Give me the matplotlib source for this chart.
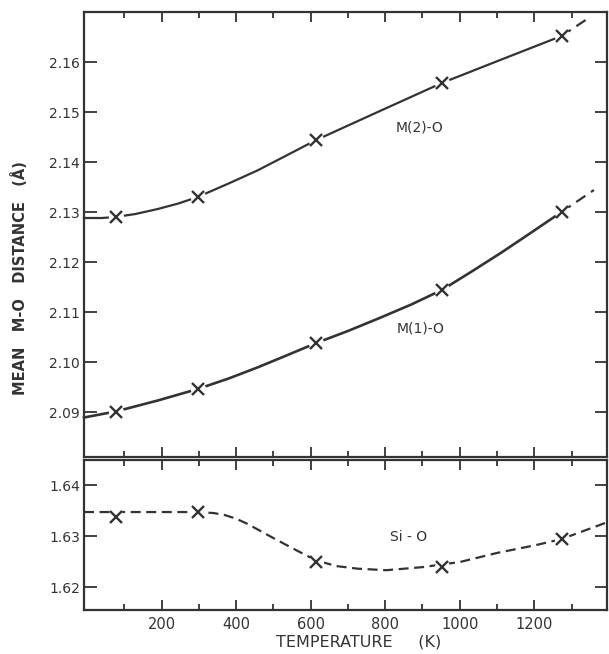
import matplotlib
matplotlib.use("Agg")
import matplotlib.pyplot as plt
from matplotlib.ticker import FixedLocator

# ---------------- data ----------------
temps = [77, 297, 615, 952, 1273]
m2_pts = [2.1290, 2.1330, 2.1444, 2.1558, 2.1652]
m1_pts = [2.0901, 2.0946, 2.1038, 2.1144, 2.1300]
si_pts = [1.6337, 1.6347, 1.6249, 1.6239, 1.6294]

# smooth guide curves as drawn in the figure
m2_curve_T = [-8, 40, 77, 130, 190, 245, 297, 380, 457, 535, 615, 780, 952, 1112, 1273]
m2_curve = [2.1288, 2.1288, 2.1290, 2.1296, 2.1306, 2.1317, 2.1330, 2.1357,
            2.1383, 2.1413, 2.1444, 2.1500, 2.1558, 2.1605, 2.1652]
m2_ext_T = [1273, 1350]
m2_ext = [2.1652, 2.1690]

m1_curve_T = [-8, 77, 190, 297, 380, 457, 535, 615, 700, 785, 870, 952,
              1030, 1112, 1190, 1273]
m1_curve = [2.0889, 2.0901, 2.0923, 2.0946, 2.0967, 2.0989, 2.1013, 2.1038,
            2.1062, 2.1088, 2.1115, 2.1144, 2.1180, 2.1219, 2.1258, 2.1300]
m1_ext_T = [1273, 1360]
m1_ext = [2.1300, 2.1344]

si_curve_T = [-8, 150, 297, 340, 370, 400, 430, 460, 500, 554, 615, 670, 726,
              803, 900, 1000, 1101, 1203, 1273, 1377, 1395]
si_curve = [1.6347, 1.6347, 1.6347, 1.6345, 1.6341, 1.6334, 1.6324, 1.6312,
            1.6296, 1.6275, 1.6252, 1.6241, 1.6236, 1.6233, 1.6239, 1.6249,
            1.6267, 1.6282, 1.6294, 1.6322, 1.6327]

x_major = [200, 400, 600, 800, 1000, 1200]
x_minor = [100, 300, 500, 700, 900, 1100, 1300]
top_yticks = [2.09, 2.10, 2.11, 2.12, 2.13, 2.14, 2.15, 2.16]
bot_yticks = [1.62, 1.63, 1.64]

# ---------------- style ----------------
INK = "#333333"
plt.rcParams['font.family'] = ['DejaVu Sans']
W, H = 609, 654
fig = plt.figure(figsize=(W / 100, H / 100), dpi=100)

def frac(px_l, px_t, px_r, px_b):
    return [px_l / W, 1 - px_b / H, (px_r - px_l) / W, (px_b - px_t) / H]

ax1 = fig.add_axes(frac(84, 12, 607, 457))
ax2 = fig.add_axes(frac(84, 460, 607, 610))

for ax in (ax1, ax2):
    ax.set_xlim(-8, 1395)
    for s in ax.spines.values():
        s.set_linewidth(1.6)
        s.set_color(INK)
    ax.xaxis.set_major_locator(FixedLocator(x_major))
    ax.xaxis.set_minor_locator(FixedLocator(x_minor))
    ax.tick_params(axis='x', which='major', direction='in', length=7, width=1.3,
                   color=INK, top=True, bottom=True)
    ax.tick_params(axis='x', which='minor', direction='in', length=4, width=1.3,
                   color=INK, top=True, bottom=True)
    ax.tick_params(axis='y', which='major', direction='in', length=9, width=1.3,
                   color=INK, left=True, right=True, labelsize=10, labelcolor=INK, pad=3)

ax1.set_ylim(2.081, 2.170)
ax1.set_yticks(top_yticks)
ax1.set_yticklabels([f"{v:.2f}" for v in top_yticks])
ax1.tick_params(axis='x', labelbottom=False)

ax2.set_ylim(1.6155, 1.6449)
ax2.set_yticks(bot_yticks)
ax2.set_yticklabels([f"{v:.2f}" for v in bot_yticks])
ax2.set_xticklabels([str(v) for v in x_major])
ax2.tick_params(axis='x', labelsize=10.5, labelcolor=INK, pad=5)

def markers(ax, xs, ys):
    ax.plot(xs, ys, linestyle='none', marker='o', ms=11, mfc='white', mec='none', zorder=3)
    ax.plot(xs, ys, linestyle='none', marker='x', ms=8, mew=1.7, color=INK, zorder=4)

# top panel curves
ax1.plot(m2_curve_T, m2_curve, color=INK, lw=1.6, zorder=2, clip_on=False,
         solid_joinstyle='round')
ax1.plot(m2_ext_T, m2_ext, color=INK, lw=1.6, ls=(0, (5, 3)), zorder=2)
ax1.plot(m1_curve_T, m1_curve, color=INK, lw=1.9, zorder=2, clip_on=False,
         solid_joinstyle='round')
ax1.plot(m1_ext_T, m1_ext, color=INK, lw=1.6, ls=(0, (5, 3)), zorder=2)
markers(ax1, temps, m2_pts)
markers(ax1, temps, m1_pts)

ax1.text(892, 2.1470, "M(2)-O", ha='center', va='center', fontsize=10, color=INK)
ax1.text(895, 2.1068, "M(1)-O", ha='center', va='center', fontsize=10, color=INK)

# bottom panel curve
ax2.plot(si_curve_T, si_curve, color=INK, lw=1.6, ls=(0, (4.5, 2.5)), zorder=2)
markers(ax2, temps, si_pts)
ax2.text(863, 1.6298, "Si - O", ha='center', va='center', fontsize=10, color=INK)

# axis titles
fig.text(359 / W, 1 - 642 / H, "TEMPERATURE     (K)", ha='center', va='center',
         fontsize=11.5, color=INK)
fig.text(20 / W, 1 - 278 / H, "MEAN   M-O   DISTANCE   (Å)", ha='center', va='center',
         rotation=90, fontsize=10.5, fontweight='bold', color=INK)

fig.savefig("out.png", dpi=100)
